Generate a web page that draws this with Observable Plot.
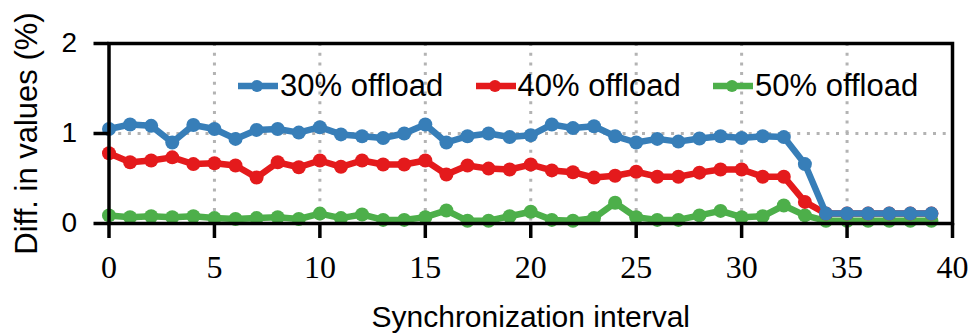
<!DOCTYPE html>
<html><head><meta charset="utf-8">
<script src="https://cdn.jsdelivr.net/npm/d3@7"></script>
<script src="https://cdn.jsdelivr.net/npm/@observablehq/plot@0.6"></script>
<style>
body{margin:0;background:#fff;}
#wrap{position:relative;width:974px;height:334px;}
#legend{position:absolute;top:71px;left:238px;display:flex;font-family:"Liberation Sans",sans-serif;font-size:31px;color:#000;}
.item{display:flex;align-items:center;width:237.5px;height:30px;}
.item span{margin-left:2px;line-height:30px;white-space:nowrap;}
</style></head>
<body><div id="wrap"><div id="legend"></div></div>
<script>
const intervals = [0,1,2,3,4,5,6,7,8,9,10,11,12,13,14,15,16,17,18,19,20,21,22,23,24,25,26,27,28,29,30,31,32,33,34,35,36,37,38,39];
const seriesNames = ["30% offload","40% offload","50% offload"];
const seriesColors = ["#377eb8","#e41a1c","#4daf4a"];
const off30 = [1.05,1.10,1.085,0.90,1.095,1.05,0.94,1.04,1.05,1.01,1.07,0.99,0.97,0.95,1.00,1.10,0.90,0.97,1.00,0.96,0.98,1.10,1.06,1.08,0.97,0.90,0.94,0.91,0.945,0.97,0.95,0.97,0.96,0.66,0.11,0.11,0.11,0.11,0.11,0.11];
const off40 = [0.78,0.68,0.70,0.735,0.66,0.67,0.645,0.51,0.68,0.625,0.70,0.63,0.70,0.655,0.655,0.70,0.545,0.645,0.61,0.60,0.655,0.59,0.57,0.51,0.53,0.575,0.52,0.52,0.565,0.60,0.60,0.52,0.52,0.24,0.11,0.11,0.11,0.11,0.11,0.11];
const off50 = [0.09,0.07,0.08,0.07,0.08,0.06,0.05,0.06,0.07,0.05,0.11,0.06,0.10,0.04,0.04,0.07,0.145,0.03,0.03,0.08,0.13,0.04,0.03,0.06,0.23,0.07,0.04,0.04,0.09,0.14,0.07,0.08,0.20,0.09,0.03,0.03,0.03,0.03,0.03,0.03];
const xTicks = [0,5,10,15,20,25,30,35,40];
const yTicks = [0,1,2];
const xGrid = [5,10,15,20,25,30,35];
const yGrid = [1];

const values = [off30, off40, off50];
const rows = [];
seriesNames.forEach((name, s) => intervals.forEach((x, i) => rows.push({x, v: values[s][i], series: name})));

const seriesMarks = [];
// draw 50% first, 30% on top
[2,1,0].forEach(s => {
  const d = rows.filter(r => r.series === seriesNames[s]);
  seriesMarks.push(Plot.line(d, {x: "x", y: "v", stroke: "series", strokeWidth: 6.5}));
  seriesMarks.push(Plot.dot(d, {x: "x", y: "v", fill: "series", r: 7}));
});

const serif = "Liberation Serif";
const sans = "Liberation Sans";
const chart = Plot.plot({
  width: 974, height: 334,
  marginLeft: 108.5, marginRight: 22, marginTop: 43, marginBottom: 111,
  x: {domain: [0, 40]},
  y: {domain: [0, 2]},
  color: {domain: seriesNames, range: seriesColors},
  style: {background: "white", color: "black"},
  marks: [
    Plot.gridX(xGrid, {stroke: "#b3b3b3", strokeOpacity: 1, strokeWidth: 3, strokeDasharray: "3,6.7"}),
    Plot.gridY(yGrid, {stroke: "#b3b3b3", strokeOpacity: 1, strokeWidth: 3, strokeDasharray: "3,6.7"}),
    ...seriesMarks,
    Plot.frame({stroke: "black", strokeWidth: 3.5}),
    Plot.axisX(xTicks, {tickSize: 15, tickPadding: 17, strokeWidth: 3.5, tickFormat: d3.format("d"), fontFamily: serif, fontSize: 32, label: null}),
    Plot.axisX({ticks: [], tickSize: 0, label: "Synchronization interval", labelAnchor: "center", labelArrow: "none", labelOffset: 103, fontFamily: sans, fontSize: 30}),
    Plot.axisY(yTicks, {tickSize: 15, tickPadding: 17, strokeWidth: 3.5, tickFormat: d3.format("d"), fontFamily: sans, fontSize: 28, label: null}),
    Plot.axisY({ticks: [], tickSize: 0, label: "Diff. in values (%)", labelAnchor: "center", labelArrow: "none", labelOffset: 94, fontFamily: sans, fontSize: 31})
  ]
});
const svg = d3.select(chart);
svg.selectAll('g[aria-label="x-axis tick label"]').attr("font-family", serif).attr("font-size", 32);
svg.selectAll('g[aria-label="y-axis tick label"]').attr("font-family", sans).attr("font-size", 28);
svg.selectAll('g[aria-label="x-axis label"]').attr("font-family", sans).attr("font-size", 30);
svg.selectAll('g[aria-label="y-axis label"]').attr("font-family", sans).attr("font-size", 31);
document.getElementById("wrap").prepend(chart);

const legend = document.getElementById("legend");
seriesNames.forEach((name, s) => {
  const item = document.createElement("div");
  item.className = "item";
  item.innerHTML = `<svg width="40" height="30"><line x1="0" x2="40" y1="15" y2="15" stroke="${seriesColors[s]}" stroke-width="6.5"/><circle cx="19" cy="15" r="6" fill="${seriesColors[s]}"/></svg><span>${name}</span>`;
  legend.appendChild(item);
});
</script>
</body></html>
